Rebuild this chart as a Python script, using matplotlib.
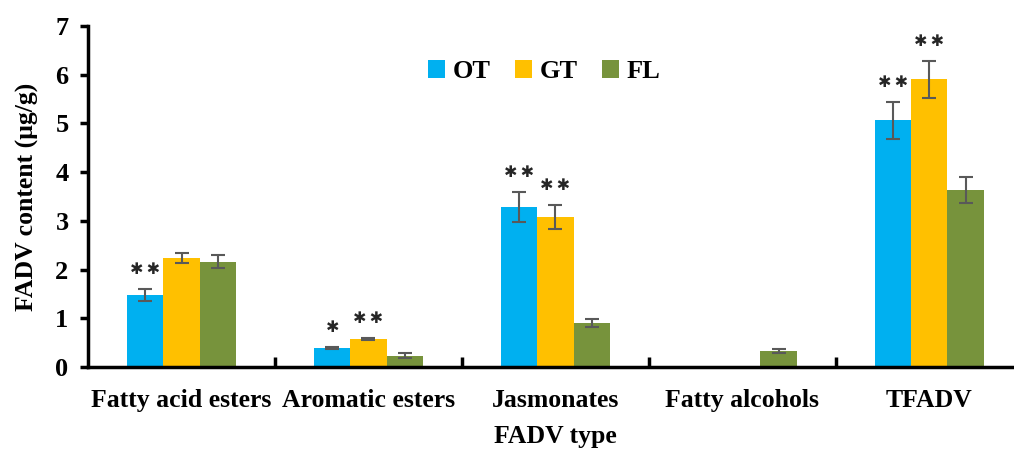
import matplotlib
matplotlib.use("Agg")
import matplotlib.pyplot as plt
import numpy as np

categories = ["Fatty acid esters", "Aromatic esters", "Jasmonates", "Fatty alcohols", "TFADV"]
series = ["OT", "GT", "FL"]
ot_mean = [1.48, 0.40, 3.28, 0.0, 5.07]
gt_mean = [2.24, 0.58, 3.08, 0.0, 5.91]
fl_mean = [2.16, 0.23, 0.90, 0.33, 3.63]
ot_err = [0.12, 0.02, 0.31, 0.0, 0.38]
gt_err = [0.10, 0.02, 0.24, 0.0, 0.38]
fl_err = [0.13, 0.05, 0.08, 0.05, 0.27]
ot_sig = ["**", "*", "**", "", "**"]
gt_sig = ["", "**", "**", "", "**"]
fl_sig = ["", "", "", "", ""]

COLORS = ["#00B0F0", "#FFC000", "#77933C"]

plt.rcParams["font.family"] = ["Liberation Serif", "DejaVu Serif"]
plt.rcParams["font.weight"] = "bold"

fig = plt.figure(figsize=(10.14, 4.5), dpi=100)
ax = fig.add_axes([0.0868, 0.1844, 0.922, 0.7578])

x = np.arange(len(categories))
w = 0.193
means = [ot_mean, gt_mean, fl_mean]
errs = [ot_err, gt_err, fl_err]
sigs = [ot_sig, gt_sig, fl_sig]
for i, name in enumerate(series):
    xs = x + (i - 1) * w
    ax.bar(xs, means[i], w, color=COLORS[i], label=name, zorder=2)
    m = np.array(means[i])
    e = np.array(errs[i])
    has = m > 0
    ax.errorbar(xs[has], m[has], yerr=e[has], fmt="none", ecolor="#595959",
                elinewidth=1.5, capsize=5, capthick=1.5, zorder=3)
    for xi, mi, ei, s in zip(xs, m, e, sigs[i]):
        if s:
            # heavy asterisk glyphs with a thin gap, like the reference
            ax.annotate("\u2009".join(s.replace("*", "\u2731")), (xi, mi + ei),
                        xytext=(0, 14), textcoords="offset points", ha="center",
                        va="center", fontsize=11.5, color="#262626",
                        family="DejaVu Sans", fontweight="normal")

ax.set_xlim(-0.5, len(categories) - 0.5)
ax.set_ylim(0, 7)
ax.set_yticks(range(0, 8))
ax.set_xticks(x)
ax.set_xticklabels(categories)
ax.set_xticks(x[:-1] + 0.5, minor=True)
ax.tick_params(axis="x", which="major", length=0, pad=16, labelsize=18.5)
ax.tick_params(axis="x", which="minor", direction="in", length=7, width=2.5)
ax.tick_params(axis="y", direction="out", length=6, width=2.5, labelsize=19, pad=8)
for s in ["top", "right"]:
    ax.spines[s].set_visible(False)
for s in ["left", "bottom"]:
    ax.spines[s].set_linewidth(2.5)

ax.set_ylabel("FADV content (μg/g)", fontsize=18.5, fontweight="bold", labelpad=12)
ax.set_xlabel("FADV type", fontsize=18.5, fontweight="bold", labelpad=9)

leg = ax.legend(loc="upper center", bbox_to_anchor=(0.488, 0.97), ncol=3, frameon=False,
                fontsize=19, handlelength=0.65, handleheight=0.65, handletextpad=0.3,
                columnspacing=0.9)
for t in leg.get_texts():
    t.set_fontweight("bold")

fig.savefig("out.png", dpi=100)
